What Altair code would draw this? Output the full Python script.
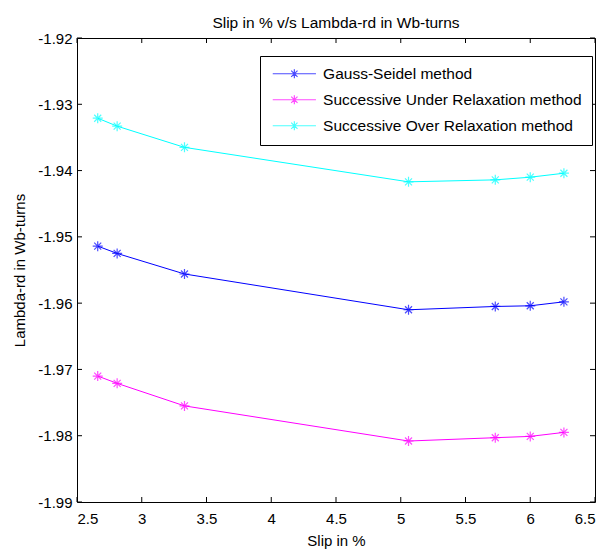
import altair as alt
import pandas as pd

# ---- data ----
slip = [2.66, 2.81, 3.33, 5.06, 5.73, 6.0, 6.26]
gauss_seidel = [-1.9514, -1.9525, -1.9556, -1.9610, -1.9605, -1.9604, -1.9598]
sur = [-1.9710, -1.9721, -1.9755, -1.9808, -1.9803, -1.9801, -1.9795]
sor = [-1.9321, -1.9333, -1.9365, -1.9417, -1.9414, -1.9410, -1.9404]
series_names = ["Gauss-Seidel method",
                "Successive Under Relaxation method",
                "Successive Over Relaxation method"]
series_colors = ["#0000FF", "#FF00FF", "#00FFFF"]
x_ticks = [2.5, 3.0, 3.5, 4.0, 4.5, 5.0, 5.5, 6.0, 6.5]
y_ticks = [-1.92, -1.93, -1.94, -1.95, -1.96, -1.97, -1.98, -1.99]

rows = []
for name, vals in zip(series_names, [gauss_seidel, sur, sor]):
    for i, (s, v) in enumerate(zip(slip, vals)):
        rows.append({"slip": s, "lam": v, "method": name, "order": i})
df = pd.DataFrame(rows)
xt = pd.DataFrame({"v": x_ticks})
yt = pd.DataFrame({"v": y_ticks})

W, H = 518, 464
FONT = "Liberation Sans"
FS = 15

xscale = alt.Scale(domain=[2.5, 6.5], nice=False, zero=False)
yscale = alt.Scale(domain=[-1.99, -1.92], nice=False, zero=False)
cscale = alt.Scale(domain=series_names, range=series_colors)

asterisk = "M-1,0L1,0M0,-1L0,1M-0.7,-0.7L0.7,0.7M-0.7,0.7L0.7,-0.7"
legend_sym = ("M-4.8,0L4.8,0M-1,0L1,0M0,-1L0,1"
              "M-0.7,-0.7L0.7,0.7M-0.7,0.7L0.7,-0.7")

x_axis = alt.Axis(values=x_ticks, format="~g", ticks=False, tickSize=0,
                  domain=False, grid=False, labelFont=FONT, labelFontSize=FS,
                  labelColor="black", labelPadding=9, title="Slip in %",
                  titleFont=FONT, titleFontSize=FS, titleFontWeight="normal",
                  titleColor="black", titlePadding=7)
y_axis = alt.Axis(values=y_ticks, ticks=False, tickSize=0, domain=False,
                  grid=False, labelFont=FONT, labelFontSize=FS,
                  labelColor="black", labelPadding=5,
                  labelExpr="'-' + format(abs(datum.value), '.2f')",
                  title="Lambda-rd in Wb-turns", titleFont=FONT,
                  titleFontSize=FS, titleFontWeight="normal",
                  titleColor="black", titlePadding=10)

base = alt.Chart(df)

lines = base.mark_line(strokeWidth=1).encode(
    x=alt.X("slip:Q", scale=xscale, axis=x_axis),
    y=alt.Y("lam:Q", scale=yscale, axis=y_axis),
    color=alt.Color("method:N", scale=cscale, sort=series_names,
                    legend=alt.Legend(
                        title=None, orient="none", legendX=183, legendY=18,
                        symbolType=legend_sym, symbolSize=81,
                        symbolStrokeWidth=1.2, symbolFillColor="transparent",
                        symbolOffset=16.6, labelOffset=21,
                        labelFont=FONT, labelFontSize=15.5, labelColor="black",
                        labelLimit=400, padding=10, rowPadding=9,
                        strokeColor="black", fillColor="white",
                        cornerRadius=0)),
    order="order:Q",
)

points = base.mark_point(shape=asterisk, filled=False, size=100,
                         strokeWidth=1.2).encode(
    x=alt.X("slip:Q", scale=xscale),
    y=alt.Y("lam:Q", scale=yscale),
    color=alt.Color("method:N", scale=cscale, sort=series_names),
)

tick_style = dict(color="black", strokeWidth=1)
bottom_ticks = alt.Chart(xt).mark_rule(**tick_style).encode(
    x=alt.X("v:Q", scale=xscale), y=alt.value(H), y2=alt.value(H - 5))
top_ticks = alt.Chart(xt).mark_rule(**tick_style).encode(
    x=alt.X("v:Q", scale=xscale), y=alt.value(0), y2=alt.value(5))
left_ticks = alt.Chart(yt).mark_rule(**tick_style).encode(
    y=alt.Y("v:Q", scale=yscale), x=alt.value(0), x2=alt.value(5))
right_ticks = alt.Chart(yt).mark_rule(**tick_style).encode(
    y=alt.Y("v:Q", scale=yscale), x=alt.value(W), x2=alt.value(W - 5))

chart = alt.layer(
    bottom_ticks, top_ticks, left_ticks, right_ticks, lines, points
).properties(
    width=W, height=H,
    title=alt.TitleParams("Slip in % v/s Lambda-rd in Wb-turns", font=FONT,
                          fontSize=15.5, fontWeight="normal", color="black",
                          anchor="middle", baseline="bottom", offset=-15),
    autosize=alt.AutoSizeParams(type="none"),
    padding={"left": 77, "top": 38, "right": 19, "bottom": 48},
    background="white",
).configure_view(stroke="black", strokeWidth=1)

chart.save("out.html", embed_options={"renderer": "svg", "actions": False})
